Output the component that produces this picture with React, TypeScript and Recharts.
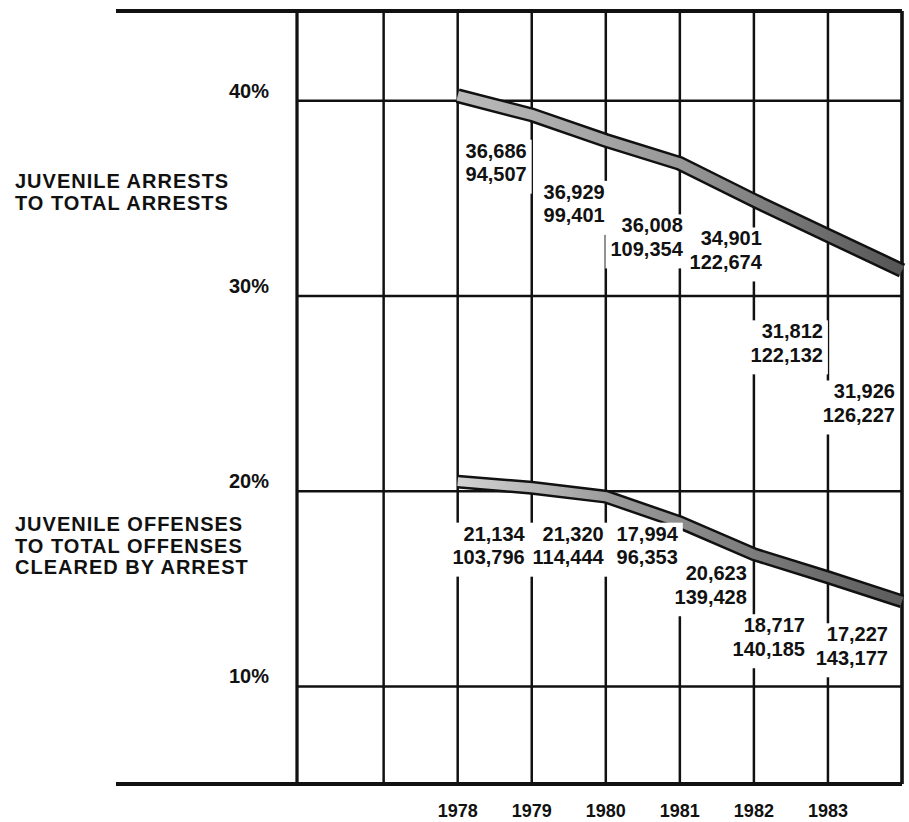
import React from "react";
import {
  CartesianGrid, LabelList, Line, LineChart, ReferenceLine, XAxis, YAxis,
} from "recharts";

// points run to the right frame edge (1984)
const years = [1978, 1979, 1980, 1981, 1982, 1983, 1984];
const gridYears = [1977, 1978, 1979, 1980, 1981, 1982, 1983];
const yearLabels = ["1978", "1979", "1980", "1981", "1982", "1983"];
const pctTicks = [10, 20, 30, 40];

const arrestPct = [40.26, 39.28, 37.97, 36.79, 34.9, 33.1, 31.31];
const offensePct = [20.49, 20.18, 19.72, 18.41, 16.77, 15.59, 14.36];

const juvenileArrests = ["36,686", "36,929", "36,008", "34,901", "31,812", "31,926"];
const totalArrests = ["94,507", "99,401", "109,354", "122,674", "122,132", "126,227"];
const juvenileOffenses = ["21,134", "21,320", "17,994", "20,623", "18,717", "17,227"];
const totalOffenses = ["103,796", "114,444", "96,353", "139,428", "140,185", "143,177"];

const data = years.map((year, i) => ({
  year,
  arrests: arrestPct[i],
  offenses: offensePct[i],
}));

const FONT = "'Liberation Sans', Arial, Helvetica, sans-serif";
const INK = "#111";

// where each pair of counts sits from its point: [right edge dx, first line dy]
const arrestShift = [[69, 55], [73, 77], [77, 85], [82, 75], [69, 131], [67, 156]];
const offenseShift = [[67, 52], [72, 46], [72, 37], [67, 51], [51, 71], [60, 57]];

function labelSpot(props: any, top: string[], shift: number[][]) {
  const x = props.x ?? props.viewBox?.x;
  const y = props.y ?? props.viewBox?.y;
  const index = props.index ?? years.indexOf(props.payload?.year);
  if (index == null || index < 0 || index >= top.length || x == null) return null;
  const [dx, dy] = shift[index];
  return { index, right: x + dx, mid: y + dy };
}

// white patch that breaks the grid behind a pair of counts
function countPatch(top: string[], bottom: string[], shift: number[][]) {
  return (props: any) => {
    const s = labelSpot(props, top, shift);
    if (!s) return null;
    const w = Math.max(top[s.index].length, bottom[s.index].length) * 11.12 - 5.5;
    return <rect key={`p${s.index}`} x={s.right - w - 5} y={s.mid - 11} width={w + 10} height={54} fill="#fff" />;
  };
}

function countText(top: string[], bottom: string[], shift: number[][]) {
  return (props: any) => {
    const s = labelSpot(props, top, shift);
    if (!s) return null;
    return (
      <g key={`t${s.index}`} fontSize={20} fontWeight={700} fontFamily={FONT} fill={INK}>
        <text x={s.right} y={s.mid + 7} textAnchor="end">{top[s.index]}</text>
        <text x={s.right} y={s.mid + 30.5} textAnchor="end">{bottom[s.index]}</text>
      </g>
    );
  };
}

function YearTick({ x, y, payload }: any) {
  const i = years.indexOf(payload.value);
  if (i < 0 || i >= yearLabels.length) return <g />;
  return (
    <text x={x} y={y + 33} textAnchor="middle" fontSize={18} fontWeight={700} fontFamily={FONT} fill={INK}>
      {yearLabels[i]}
    </text>
  );
}

function PctTick({ x, y, payload }: any) {
  return (
    <text x={x} y={y - 3} textAnchor="end" fontSize={20} fontWeight={700} fontFamily={FONT} fill={INK}>
      {`${payload.value}%`}
    </text>
  );
}

// top and bottom rules run on past the plot to the left
function longRule(props: any) {
  const { x1, y1, x2, y2 } = props;
  return <line x1={x1 - 181} y1={y1} x2={x2} y2={y2} stroke={INK} strokeWidth={4} />;
}

const titleStyle: React.CSSProperties = {
  position: "absolute",
  left: 15,
  fontFamily: FONT,
  fontWeight: 700,
  fontSize: 20,
  letterSpacing: 1,
  color: INK,
  whiteSpace: "nowrap",
};

export default function App() {
  return (
    <div style={{ position: "absolute", left: 0, top: 0, width: 909, height: 822, background: "#fff" }}>
      <LineChart
        width={909}
        height={822}
        data={data}
        margin={{ top: 11, right: 7, bottom: 8, left: 237 }}
      >
        <defs>
          <linearGradient id="arrestBand" x1="0" y1="0" x2="1" y2="0">
            <stop offset="0" stopColor="#bababa" />
            <stop offset="0.5" stopColor="#989898" />
            <stop offset="1" stopColor="#555" />
          </linearGradient>
          <linearGradient id="offenseBand" x1="0" y1="0" x2="1" y2="0">
            <stop offset="0" stopColor="#d2d2d2" />
            <stop offset="0.35" stopColor="#9a9a9a" />
            <stop offset="1" stopColor="#5c5c5c" />
          </linearGradient>
        </defs>
        <CartesianGrid stroke={INK} strokeWidth={2.5} />
        <XAxis
          dataKey="year" type="number" domain={[1975.83, 1984]} ticks={gridYears}
          interval={0} axisLine={false} tickLine={false} tickSize={0} tickMargin={0}
          height={30} tick={<YearTick />}
        />
        <YAxis
          type="number" domain={[5, 44.6]} ticks={pctTicks} interval={0}
          axisLine={false} tickLine={false} tickSize={0} tickMargin={28}
          width={60} tick={<PctTick />}
        />
        <ReferenceLine x={1975.83} stroke={INK} strokeWidth={3} />
        <ReferenceLine x={1984} stroke={INK} strokeWidth={3.5} />
        <ReferenceLine y={44.6} shape={longRule} />
        <ReferenceLine y={5} shape={longRule} />

        {/* count labels ride on unstroked copies so they sit under the bands */}
        <Line dataKey="arrests" stroke="none" dot={false} isAnimationActive={false}>
          <LabelList dataKey="arrests" content={countPatch(juvenileArrests, totalArrests, arrestShift)} />
          <LabelList dataKey="arrests" content={countText(juvenileArrests, totalArrests, arrestShift)} />
        </Line>
        <Line dataKey="offenses" stroke="none" dot={false} isAnimationActive={false}>
          <LabelList dataKey="offenses" content={countPatch(juvenileOffenses, totalOffenses, offenseShift)} />
          <LabelList dataKey="offenses" content={countText(juvenileOffenses, totalOffenses, offenseShift)} />
        </Line>

        <Line dataKey="arrests" stroke={INK} strokeWidth={15} dot={false} isAnimationActive={false} />
        <Line dataKey="arrests" stroke="url(#arrestBand)" strokeWidth={10} dot={false} isAnimationActive={false} />
        <Line dataKey="offenses" stroke={INK} strokeWidth={14} dot={false} isAnimationActive={false} />
        <Line dataKey="offenses" stroke="url(#offenseBand)" strokeWidth={9} dot={false} isAnimationActive={false} />
      </LineChart>

      <div style={{ ...titleStyle, top: 170, lineHeight: "22px" }}>
        JUVENILE ARRESTS<br />TO TOTAL ARRESTS
      </div>
      <div style={{ ...titleStyle, top: 514, lineHeight: "21.5px" }}>
        JUVENILE OFFENSES<br />TO TOTAL OFFENSES<br />CLEARED BY ARREST
      </div>
    </div>
  );
}
